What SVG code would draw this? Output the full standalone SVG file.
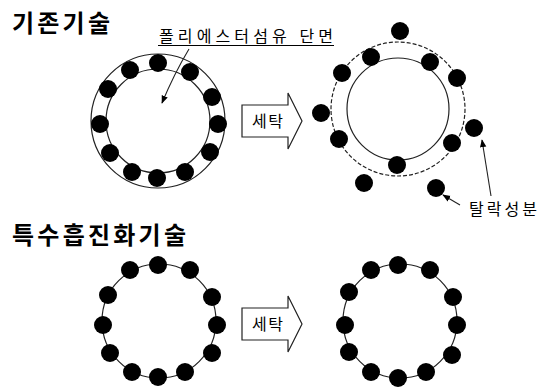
<svg xmlns="http://www.w3.org/2000/svg" width="548" height="390" viewBox="0 0 548 390">
<style>
.t{font-family:"Liberation Sans","Noto Sans CJK KR",sans-serif;fill:#000}
.title{font-size:24px;font-weight:bold}
.lbl{font-size:16px}
.ln{fill:none;stroke:#222;stroke-width:1.2}
.dash{fill:none;stroke:#222;stroke-width:1.2;stroke-dasharray:4 2}
.dot{fill:#000}
.arr{fill:#fff;stroke:#222;stroke-width:1.2}
</style>
<defs>
<marker id="ah" viewBox="0 0 10 10" refX="9" refY="5" markerWidth="8" markerHeight="8" orient="auto" markerUnits="userSpaceOnUse">
<path d="M0,1 L10,5 L0,9 Z" fill="#000"/>
</marker>
</defs>
<rect width="548" height="390" fill="#fff"/>

<g id="title-old">
<text class="t title" x="12" y="32" textLength="98" lengthAdjust="spacing">기존기술</text>
</g>
<g id="title-new">
<text class="t title" x="12" y="244" textLength="174" lengthAdjust="spacing">특수흡진화기술</text>
</g>

<g id="fiber-old-before">
<circle class="ln" cx="158" cy="121" r="67"/>
<circle class="ln" cx="158" cy="121" r="52"/>
<g class="dot">
<circle cx="158" cy="63" r="9"/><circle cx="130" cy="70" r="9"/><circle cx="190" cy="72" r="9"/>
<circle cx="108" cy="89" r="9"/><circle cx="212" cy="97" r="9"/><circle cx="100" cy="124" r="9"/>
<circle cx="218" cy="124" r="9"/><circle cx="110" cy="153" r="9"/><circle cx="210" cy="152" r="9"/>
<circle cx="132" cy="172" r="9"/><circle cx="157" cy="178" r="9"/><circle cx="185" cy="172" r="9"/>
</g>
</g>

<g id="label-fiber">
<text class="t lbl" x="159" y="42" textLength="174" lengthAdjust="spacing">폴리에스터섬유 단면</text>
<line x1="158" y1="45.5" x2="334" y2="45.5" stroke="#000" stroke-width="1.2"/>
</g>

<g id="fiber-old-after">
<circle class="dash" cx="398" cy="109" r="67"/>
<circle class="ln" cx="398" cy="109" r="51"/>
<g class="dot">
<circle cx="400" cy="31" r="9"/><circle cx="371" cy="57" r="9"/><circle cx="430" cy="62" r="9"/>
<circle cx="342" cy="73" r="9"/><circle cx="457" cy="78" r="9"/><circle cx="321" cy="113" r="9"/>
<circle cx="474" cy="128" r="9"/><circle cx="339" cy="139" r="9"/><circle cx="452" cy="143" r="9"/>
<circle cx="397" cy="165" r="9"/><circle cx="364" cy="183" r="9"/><circle cx="436" cy="188" r="9"/>
</g>
</g>

<g id="label-detached">
<text class="t lbl" x="469" y="215" textLength="68" lengthAdjust="spacing">탈락성분</text>
</g>

<g id="wash-old">
<polygon class="arr" points="242,105 288,105 288,93 302,121 288,149 288,137 242,137"/>
<text class="t lbl" x="252" y="127" textLength="31" lengthAdjust="spacing">세탁</text>
</g>

<g id="fiber-new-before">
<circle class="ln" cx="159" cy="321" r="57"/>
<g class="dot">
<circle cx="158" cy="265" r="9"/><circle cx="130" cy="270" r="9"/><circle cx="190" cy="270" r="9"/>
<circle cx="108" cy="295" r="9"/><circle cx="212" cy="297" r="9"/><circle cx="103" cy="325" r="9"/>
<circle cx="217" cy="325" r="9"/><circle cx="110" cy="353" r="9"/><circle cx="212" cy="353" r="9"/>
<circle cx="132" cy="372" r="9"/><circle cx="158" cy="377" r="9"/><circle cx="185" cy="372" r="9"/>
</g>
</g>

<g id="wash-new">
<polygon class="arr" points="242,308 288,308 288,296 302,324 288,352 288,340 242,340"/>
<text class="t lbl" x="252" y="330" textLength="31" lengthAdjust="spacing">세탁</text>
</g>

<g id="fiber-new-after">
<circle class="ln" cx="400" cy="321" r="57"/>
<g class="dot">
<circle cx="398" cy="265" r="9"/><circle cx="371" cy="270" r="9"/><circle cx="430" cy="270" r="9"/>
<circle cx="349" cy="292" r="9"/><circle cx="453" cy="297" r="9"/><circle cx="345" cy="325" r="9"/>
<circle cx="457" cy="325" r="9"/><circle cx="349" cy="352" r="9"/><circle cx="452" cy="355" r="9"/>
<circle cx="371" cy="372" r="9"/><circle cx="398" cy="378" r="9"/><circle cx="426" cy="372" r="9"/>
</g>
</g>

<g id="connectors" fill="none" stroke="#222" stroke-width="1.1">
<path d="M189,49 Q174,74 162,103" marker-end="url(#ah)"/>
<line x1="491" y1="196" x2="482" y2="140" marker-end="url(#ah)"/>
<line x1="460" y1="205" x2="443" y2="195" marker-end="url(#ah)"/>
</g>
</svg>
